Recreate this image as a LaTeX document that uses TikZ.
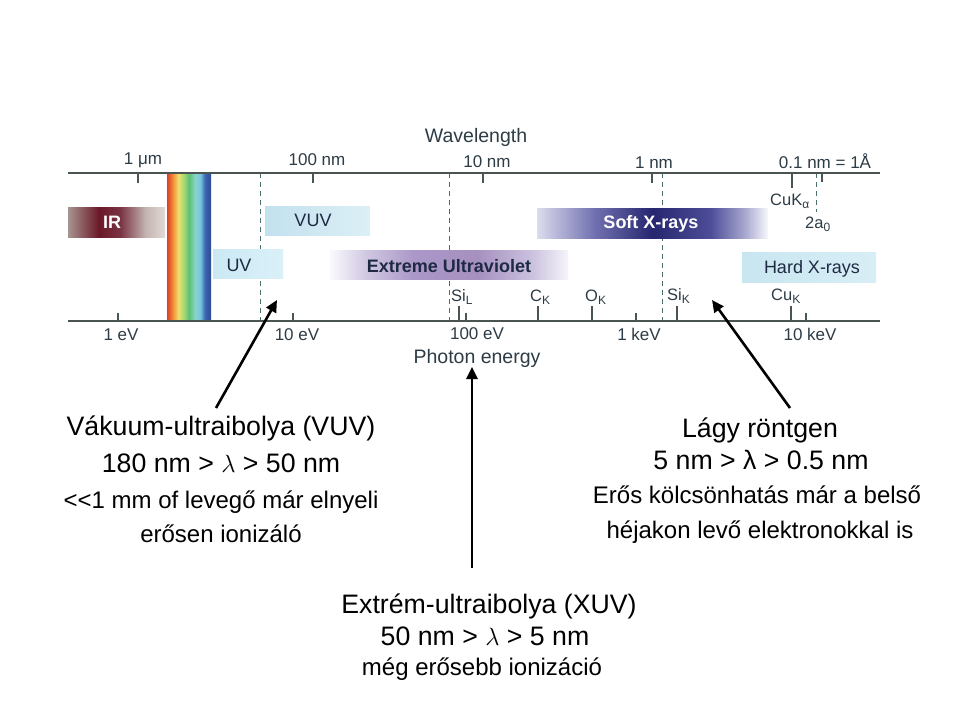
\documentclass[tikz,border=0pt]{standalone}
\usepackage{fontspec}
\setmainfont{Liberation Sans}
\usetikzlibrary{arrows.meta}
\definecolor{chartc}{HTML}{2D3C46}
\definecolor{axisc}{HTML}{4A5450}
\definecolor{dashc}{HTML}{4A6E6E}
\definecolor{navyt}{HTML}{1E2A44}
% stops mapped into the central 25bp--75bp band that TikZ fits to the path
\definecolor{rb0}{HTML}{D8402A}\definecolor{rb1}{HTML}{EE6A2E}\definecolor{rb2}{HTML}{F2A040}\definecolor{rb3}{HTML}{F0E070}\definecolor{rb4}{HTML}{A8D870}\definecolor{rb5}{HTML}{5EC078}\definecolor{rb6}{HTML}{8AD4C8}\definecolor{rb7}{HTML}{78C4E0}\definecolor{rb8}{HTML}{3C66B4}\definecolor{rb9}{HTML}{2C4A94}
\pgfdeclarehorizontalshading{rainbowsh}{100bp}{color(0bp)=(rb0); color(25bp)=(rb0); color(29bp)=(rb1); color(33bp)=(rb2); color(38bp)=(rb3); color(44bp)=(rb4); color(50bp)=(rb5); color(57bp)=(rb6); color(63bp)=(rb7); color(68bp)=(rb8); color(75bp)=(rb9); color(100bp)=(rb9)}
\definecolor{ir0}{HTML}{A89490}\definecolor{ir1}{HTML}{6A1828}\definecolor{ir2}{HTML}{7A3444}\definecolor{ir3}{HTML}{C4B4B0}\definecolor{ir4}{HTML}{E2DAD6}
\pgfdeclarehorizontalshading{irsh}{100bp}{color(0bp)=(ir0); color(25bp)=(ir0); color(41bp)=(ir1); color(52bp)=(ir2); color(65bp)=(ir3); color(75bp)=(ir4); color(100bp)=(ir4)}
\definecolor{vu0}{HTML}{C2E1EE}\definecolor{vu1}{HTML}{DDEFF6}
\pgfdeclarehorizontalshading{vuvsh}{100bp}{color(0bp)=(vu0); color(25bp)=(vu0); color(75bp)=(vu1); color(100bp)=(vu1)}
\definecolor{uv0}{HTML}{CBE9F4}\definecolor{uv1}{HTML}{DAF0F8}
\pgfdeclarehorizontalshading{uvsh}{100bp}{color(0bp)=(uv0); color(25bp)=(uv0); color(75bp)=(uv1); color(100bp)=(uv1)}
\definecolor{eu0}{HTML}{FAFAFD}\definecolor{eu1}{HTML}{D0C8E2}\definecolor{eu2}{HTML}{AB98C8}\definecolor{eu3}{HTML}{A690C0}\definecolor{eu4}{HTML}{CBC2DE}\definecolor{eu5}{HTML}{F6F4FA}
\pgfdeclarehorizontalshading{eusch}{100bp}{color(0bp)=(eu0); color(25bp)=(eu0); color(32.5bp)=(eu1); color(42.5bp)=(eu2); color(56bp)=(eu3); color(67.5bp)=(eu4); color(75bp)=(eu5); color(100bp)=(eu5)}
\definecolor{sx0}{HTML}{DCDCEE}\definecolor{sx1}{HTML}{7070B0}\definecolor{sx2}{HTML}{262670}\definecolor{sx3}{HTML}{4C4C98}\definecolor{sx4}{HTML}{A8A8D0}\definecolor{sx5}{HTML}{F8F8FC}
\pgfdeclarehorizontalshading{sxsh}{100bp}{color(0bp)=(sx0); color(25bp)=(sx0); color(37.5bp)=(sx1); color(50bp)=(sx2); color(62.5bp)=(sx3); color(70bp)=(sx4); color(75bp)=(sx5); color(100bp)=(sx5)}
\definecolor{hx0}{HTML}{C8E6F0}\definecolor{hx1}{HTML}{D8EEF6}
\pgfdeclarehorizontalshading{hxsh}{100bp}{color(0bp)=(hx0); color(25bp)=(hx0); color(75bp)=(hx1); color(100bp)=(hx1)}
\newcommand\lsub[1]{\raisebox{-0.4ex}{\fontsize{12}{12}\selectfont #1}}
\begin{document}
\begin{tikzpicture}[x=1pt,y=-1pt,
  axisline/.style={draw=axisc, line width=1.6pt},
  tk/.style={draw=axisc, line width=1.3pt},
  dsh/.style={draw=dashc, line width=0.9pt, dash pattern=on 5pt off 4pt},
  clbl/.style={text=chartc, font=\fontsize{17}{17}\selectfont, inner sep=0pt, anchor=base},
  cttl/.style={text=chartc, font=\fontsize{19.5}{20}\selectfont, inner sep=0pt, anchor=base},
  elbl/.style={text=chartc, font=\fontsize{16.5}{17}\selectfont, inner sep=0pt, anchor=base west},
  band/.style={draw=none, inner sep=0pt},
  btxt/.style={inner sep=0pt, text height=13pt, text depth=0pt, font=\fontsize{18}{18}\selectfont},
  big/.style={font=\fontsize{26.7}{30}\selectfont, anchor=base, inner sep=0pt},
  small/.style={font=\fontsize{24}{28}\selectfont, anchor=base, inner sep=0pt},
  arr/.style={-{Triangle[length=12pt,width=11pt]}, line width=2.6pt, draw=black}]
\useasboundingbox (0,0) rectangle (960,720);
\fill[white] (0,0) rectangle (960,720);

% dashed reference lines
\coordinate (d1t) at (260,173); \coordinate (d1b) at (260,321);
\coordinate (d2t) at (449,173); \coordinate (d2b) at (449,321);
\coordinate (d3t) at (662,173); \coordinate (d3b) at (662,321);
\coordinate (d4t) at (816,173); \coordinate (d4b) at (816,212);
\draw[dsh] (d1t) -- (d1b);
\draw[dsh] (d2t) -- (d2b);
\draw[dsh] (d3t) -- (d3b);
\draw[dsh] (d4t) -- (d4b);

% rainbow
\node[band, shading=rainbowsh, minimum width=44pt, minimum height=148pt] (vis) at (189,247) {};

% bands
\node[band, shading=irsh, minimum width=97pt, minimum height=30pt] (irband) at (116.5,222) {};
\node[band, shading=vuvsh, minimum width=105pt, minimum height=29pt] (vuvband) at (317.5,221) {};
\node[band, shading=uvsh, minimum width=70pt, minimum height=29pt] (uvband) at (248,263.5) {};
\node[band, shading=eusch, minimum width=238pt, minimum height=29pt] (euvband) at (449,264.5) {};
\node[band, shading=sxsh, minimum width=231pt, minimum height=30pt] (sxband) at (652.5,223) {};
\node[band, shading=hxsh, minimum width=134pt, minimum height=30pt] (hxband) at (809,267) {};

\node[btxt, text=white, font=\fontsize{18}{18}\selectfont\bfseries] (irtxt) at (112,222) {IR};
\node[btxt, text=navyt] (vuvtxt) at (313,220) {VUV};
\node[btxt, text=navyt] (uvtxt) at (239,264.5) {UV};
\node[btxt, text=navyt, font=\fontsize{18}{18}\selectfont\bfseries] (euvtxt) at (449,265.5) {Extreme Ultraviolet};
\node[btxt, text=white, font=\fontsize{18}{18}\selectfont\bfseries] (sxtxt) at (651,222) {Soft X-rays};
\node[btxt, text=navyt] (hxtxt) at (812,266.5) {Hard X-rays};

% axes
\coordinate (tl) at (68,173); \coordinate (tr) at (880,173);
\coordinate (bl) at (68,321); \coordinate (br) at (880,321);
\draw[axisline] (tl) -- (tr);
\draw[axisline] (bl) -- (br);

% top ticks
\foreach \x/\l in {138/10,313/10,483/10,652/10,792/15,822/9}
  \draw[tk] (\x,173) -- ++(0,\l);
% bottom ticks
\foreach \x/\l in {118/8,293/8,459/15,466/8,538/15,592/15,636/8,677/15,791/15,806/8}
  \draw[tk] (\x,321) -- ++(0,-\l);

% top labels
\node[cttl] (wl) at (476,142) {Wavelength};
\node[clbl] (w1) at (143,164) {1 μm};
\node[clbl] (w2) at (317,165) {100 nm};
\node[clbl] (w3) at (487,167) {10 nm};
\node[clbl] (w4) at (654,168) {1 nm};
\node[clbl] (w5) at (825,168) {0.1 nm = 1Å};
% bottom labels
\node[clbl] (e1) at (121,340) {1 eV};
\node[clbl] (e2) at (297,340) {10 eV};
\node[clbl] (e3) at (477,339) {100 eV};
\node[clbl] (e4) at (639,340) {1 keV};
\node[clbl] (e5) at (810,340) {10 keV};
\node[cttl] (pe) at (477,363) {Photon energy};
% element labels
\node[elbl] (sil) at (451,301) {Si\lsub{L}};
\node[elbl] (ck) at (530,301) {C\lsub{K}};
\node[elbl] (ok) at (585,301) {O\lsub{K}};
\node[elbl] (sik) at (667,300) {Si\lsub{K}};
\node[elbl] (cuk) at (771,300) {Cu\lsub{K}};
\node[elbl] (cuka) at (770,205) {CuK\lsub{α}};
\node[elbl] (twoa) at (805,228) {2a\lsub{0}};

% explanatory text
\node[big] (vuv1) at (221,435) {Vákuum-ultraibolya (VUV)};
\node[big] (vuv2) at (221,472) {180 nm > $\lambda$ > 50 nm};
\node[small] (vuv3) at (221,508) {{<}{<}1 mm of levegő már elnyeli};
\node[small] (vuv4) at (221,542) {erősen ionizáló};

\node[big] (sx1) at (760,437) {Lágy röntgen};
\node[big] (sx2) at (761,469) {5 nm > λ > 0.5 nm};
\node[small] (sx3) at (757,503) {Erős kölcsönhatás már a belső};
\node[small] (sx4) at (760,538) {héjakon levő elektronokkal is};

\node[big] (xuv1) at (489,613) {Extrém-ultraibolya (XUV)};
\node[big] (xuv2) at (485,645) {50 nm > $\lambda$ > 5 nm};
\node[small] (xuv3) at (482,675) {még erősebb ionizáció};

% arrows
\coordinate (a1s) at (216,408); \coordinate (a1e) at (277,300);
\coordinate (a2s) at (472,568); \coordinate (a2e) at (472,367);
\coordinate (a3s) at (790,408); \coordinate (a3e) at (712,300);
\draw[arr] (a1s) -- (a1e);
\draw[arr] (a2s) -- (a2e);
\draw[arr] (a3s) -- (a3e);
\end{tikzpicture}
\end{document}
